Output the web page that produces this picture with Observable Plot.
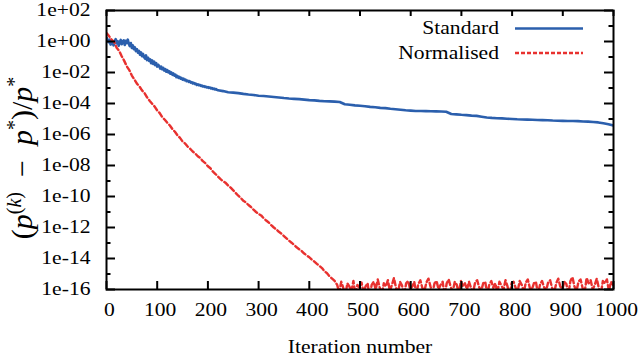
<!DOCTYPE html>
<html>
<head>
<meta charset="utf-8">
<script src="https://cdn.jsdelivr.net/npm/d3@7"></script>
<script src="https://cdn.jsdelivr.net/npm/@observablehq/plot@0.6"></script>
<style>
  html, body { margin: 0; padding: 0; background: #fff; }
  #chart { width: 640px; height: 357px; }
  #chart svg text, #chart svg tspan { font-family: "Liberation Serif", "DejaVu Serif", serif; }
</style>
</head>
<body>
<div id="chart"></div>
<script>
// ---- data (values are log10 of the relative error) ----
// Standard: early noisy part, one sample every 2 iterations from 0
const standardEarlyStart = 0, standardEarlyStep = 2;
const standardEarly = [
  0.25, 0.1, -0.05, 0.12, -0.2, 0.05, -0.1, -0.25, 0.0, 0.15,
  -0.12, 0.02, -0.28, -0.05, 0.1, -0.18, -0.02, 0.08, -0.22, 0.05,
  -0.1, 0.12, -0.15, -0.3, -0.1, -0.42, -0.25, -0.5, -0.38, -0.62,
  -0.5, -0.72, -0.6, -0.85, -0.7, -0.95, -0.8, -1.0, -1.1, -0.9,
  -1.2, -1.05, -1.25, -1.15, -1.4, -1.22, -1.45, -1.3, -1.52, -1.4,
  -1.62, -1.5, -1.58, -1.75, -1.62, -1.8, -1.7, -1.88, -1.78, -1.95,
  -1.85, -2.0, -1.92, -2.08, -2.0, -2.15, -2.06, -2.2, -2.14, -2.3,
  -2.22, -2.34, -2.28, -2.4, -2.35, -2.46, -2.4, -2.5, -2.46, -2.56,
  -2.52, -2.6, -2.56, -2.65, -2.62, -2.7, -2.66, -2.74, -2.71, -2.8,
  -2.76, -2.82, -2.8, -2.87, -2.84, -2.9, -2.88, -2.93, -2.91, -2.97,
  -2.94, -2.99, -2.97, -3.03, -3.0, -3.06, -3.04, -3.09, -3.07, -3.12];
// Standard: later part, one sample every 10 iterations from 220
const standardLateStart = 220, standardLateStep = 10;
const standardLate = [-3.15, -3.2, -3.27, -3.3, -3.33, -3.38, -3.42, -3.45, -3.5, -3.52, -3.55, -3.58,
  -3.61, -3.65, -3.68, -3.7, -3.72, -3.75, -3.78, -3.8, -3.83, -3.85, -3.86, -3.88, -3.9, -4.05, -4.08,
  -4.12, -4.15, -4.18, -4.22, -4.24, -4.28, -4.3, -4.34, -4.37, -4.4, -4.44, -4.46, -4.48, -4.48, -4.49,
  -4.5, -4.51, -4.52, -4.53, -4.68, -4.7, -4.73, -4.75, -4.78, -4.8, -4.85, -4.9, -4.93, -4.95, -4.96,
  -4.98, -5.0, -5.02, -5.03, -5.04, -5.05, -5.06, -5.07, -5.08, -5.1, -5.11, -5.12, -5.13, -5.13, -5.14,
  -5.16, -5.17, -5.19, -5.22, -5.28, -5.34, -5.42];
// Normalised: descent, one sample every 5 iterations from 0
const normalisedDescentStart = 0, normalisedDescentStep = 5;
const normalisedDescent = [0.55, 0.35, 0.12, -0.02, -0.4, -0.6, -0.95, -1.25, -1.6, -1.85, -2.2, -2.45,
  -2.72, -2.9, -3.15, -3.33, -3.6, -3.82, -4.02, -4.2, -4.45, -4.62, -4.88, -5.05, -5.25, -5.42, -5.65,
  -5.82, -6.05, -6.22, -6.45, -6.58, -6.78, -6.92, -7.1, -7.22, -7.4, -7.52, -7.72, -7.85, -8.05, -8.18,
  -8.4, -8.55, -8.72, -8.88, -9.02, -9.12, -9.3, -9.43, -9.6, -9.78, -9.95, -10.1, -10.28, -10.38, -10.55,
  -10.68, -10.85, -11.0, -11.12, -11.22, -11.4, -11.55, -11.68, -11.85, -12.0, -12.12, -12.28, -12.4,
  -12.55, -12.7, -12.85, -12.98, -13.12, -13.28, -13.4, -13.52, -13.68, -13.8, -13.92, -14.08, -14.2,
  -14.35, -14.48, -14.62, -14.82, -14.95, -15.15, -15.3, -15.45];
// Normalised: machine-precision floor, one sample every 4 iterations from 455
const normalisedFloorStart = 455, normalisedFloorStep = 4;
const normalisedFloor = [-15.7, -16.2, -15.5, -15.9, -16.4, -15.6, -15.8, -16.1, -15.45, -16.3,
  -15.7, -15.9, -15.55, -16.2, -15.8, -15.6, -16.5, -15.7, -15.5, -16.0,
  -15.35, -15.9, -16.3, -15.6, -15.8, -15.4, -16.1, -15.7, -15.25, -15.9,
  -16.2, -15.5, -15.75, -16.4, -15.6, -15.45, -16.0, -15.8, -15.5, -16.3,
  -15.65, -15.4, -15.9, -16.1, -15.55, -15.3, -15.8, -16.2, -15.6, -15.45,
  -16.0, -15.7, -15.5, -16.4, -15.6, -15.35, -15.85, -16.1, -15.5, -15.7,
  -16.3, -15.45, -15.8, -15.6, -16.0, -15.5, -15.9, -16.2, -15.55, -15.4,
  -15.85, -16.1, -15.6, -15.5, -16.3, -15.7, -15.45, -15.9, -15.6, -16.2,
  -15.5, -15.75, -16.0, -15.4, -15.8, -16.4, -15.6, -15.5, -15.9, -16.1,
  -15.45, -15.7, -16.2, -15.55, -15.35, -15.9, -16.0, -15.6, -15.5, -16.3,
  -15.7, -15.45, -15.85, -16.1, -15.55, -15.4, -15.9, -16.2, -15.6, -15.3,
  -15.8, -16.0, -15.5, -15.65, -16.3, -15.45, -15.2, -15.8, -16.1, -15.5,
  -15.35, -15.9, -16.2, -15.25, -15.6, -15.4, -16.0, -15.7, -15.3, -15.9,
  -16.3, -15.45, -15.6, -15.35, -16.1, -15.5, -15.7];

const seriesNames = ["Standard", "Normalised"];
const xTicks = [0, 100, 200, 300, 400, 500, 600, 700, 800, 900, 1000];
const yMajorTicks = [1e2, 1e0, 1e-2, 1e-4, 1e-6, 1e-8, 1e-10, 1e-12, 1e-14, 1e-16];
const yTickLabels = ["1e+02", "1e+00", "1e-02", "1e-04", "1e-06", "1e-08", "1e-10", "1e-12", "1e-14", "1e-16"];
const yMinorTicks = [1e1, 1e-1, 1e-3, 1e-5, 1e-7, 1e-9, 1e-11, 1e-13, 1e-15];
const xLabel = "Iteration number";

// ---- build tables ----
function seg(vals, start, step, name) {
  return vals.map((e, i) => ({ iter: start + i * step, value: Math.pow(10, e), series: name }));
}
const standard = [...seg(standardEarly, standardEarlyStart, standardEarlyStep, seriesNames[0]),
                  ...seg(standardLate, standardLateStart, standardLateStep, seriesNames[0])];
const normalised = [...seg(normalisedDescent, normalisedDescentStart, normalisedDescentStep, seriesNames[1]),
                    ...seg(normalisedFloor, normalisedFloorStart, normalisedFloorStep, seriesNames[1])];

// ---- layout ----
const W = 640, H = 357, mL = 106, mR = 27, mT = 10, mB = 68;
const pw = W - mL - mR, ph = H - mT - mB;
const FONT = "Liberation Serif, DejaVu Serif, serif";
const STRETCH = 1.2;
const BLUE = "#2b5fad", RED = "#e8312f";
const labelOf = new Map(yMajorTicks.map((t, i) => [t, yTickLabels[i]]));

const chart = Plot.plot({
  width: W, height: H,
  marginLeft: mL, marginRight: mR, marginTop: mT, marginBottom: mB,
  style: { fontFamily: FONT, fontSize: "18px", color: "#000", background: "#fff", overflow: "visible" },
  x: { domain: [0, 1000] },
  y: { type: "log", domain: [1e-16, 1e2] },
  marks: [
    Plot.line(standard, { x: "iter", y: "value", stroke: BLUE, strokeWidth: 2.6, clip: true }),
    Plot.line(normalised, { x: "iter", y: "value", stroke: RED, strokeWidth: 2.4, strokeDasharray: "5,3", clip: true }),
    Plot.tickY(yMajorTicks, { y: d => d, insetRight: pw - 9, strokeWidth: 2 }),
    Plot.tickY(yMajorTicks, { y: d => d, insetLeft: pw - 9, strokeWidth: 2 }),
    Plot.tickY(yMinorTicks, { y: d => d, insetRight: pw - 4.5, strokeWidth: 2 }),
    Plot.tickY(yMinorTicks, { y: d => d, insetLeft: pw - 4.5, strokeWidth: 2 }),
    Plot.tickX(xTicks, { x: d => d, insetTop: ph - 8, strokeWidth: 2 }),
    Plot.tickX(xTicks, { x: d => d, insetBottom: ph - 6, strokeWidth: 2 }),
    Plot.frame({ stroke: "#000", strokeWidth: 2 }),
    Plot.axisY(yMajorTicks, { tickSize: 0, tickPadding: 16, tickFormat: d => labelOf.get(d), label: null, fontSize: 18 }),
    Plot.axisX(xTicks, { tickSize: 0, tickPadding: 14, dx: 3, tickFormat: d => String(d), label: null, fontSize: 18 }),
    Plot.text([xLabel], { text: d => d, frameAnchor: "bottom", dy: 58, lineAnchor: "middle", fontSize: 18 })
  ]
});

document.getElementById("chart").appendChild(chart);
const svg = d3.select(chart);

// stretch Plot's own texts horizontally (about their anchor) to match the reference's wide serif
chart.querySelectorAll("text").forEach(t => {
  const bb = t.getBBox();
  const anchor = getComputedStyle(t).textAnchor;
  const ax = anchor === "end" ? bb.x + bb.width : anchor === "middle" ? bb.x + bb.width / 2 : bb.x;
  const tr = t.getAttribute("transform") || "";
  t.setAttribute("transform", `${tr} translate(${ax},0) scale(${STRETCH},1) translate(${-ax},0)`);
});

// legend
const legend = svg.append("g").attr("font-family", FONT).attr("font-size", 18);
const legendRows = [
  { name: seriesNames[0], y: 28.5, stroke: BLUE, dash: null, w: 2.6 },
  { name: seriesNames[1], y: 53, stroke: RED, dash: "4,2", w: 2.3 }
];
for (const r of legendRows) {
  legend.append("text").attr("transform", `translate(499,${r.y}) scale(${STRETCH},1)`)
    .attr("text-anchor", "end").attr("dy", "0.32em").text(r.name);
  legend.append("line").attr("x1", 515).attr("x2", 583).attr("y1", r.y).attr("y2", r.y)
    .attr("stroke", r.stroke).attr("stroke-width", r.w).attr("stroke-dasharray", r.dash);
}

// y-axis label: (p^(k) − p*)/p*
const yl = svg.append("text")
  .attr("transform", `translate(32,158) rotate(-90)`)
  .attr("text-anchor", "middle").attr("font-family", FONT).attr("font-size", 30);
yl.append("tspan").text("(");
yl.append("tspan").attr("font-style", "italic").text("p");
yl.append("tspan").attr("font-size", 20).attr("dy", -11).text("(");
yl.append("tspan").attr("font-size", 20).attr("font-style", "italic").text("k");
yl.append("tspan").attr("font-size", 20).text(")");
yl.append("tspan").attr("dy", 11).text("\u2002\u2212\u2002");
yl.append("tspan").attr("font-style", "italic").text("p");
yl.append("tspan").attr("font-size", 20).attr("dy", -11).text("*");
yl.append("tspan").attr("dy", 11).text(")/");
yl.append("tspan").attr("font-style", "italic").text("p");
yl.append("tspan").attr("font-size", 20).attr("dy", -11).text("*");
</script>
</body>
</html>
